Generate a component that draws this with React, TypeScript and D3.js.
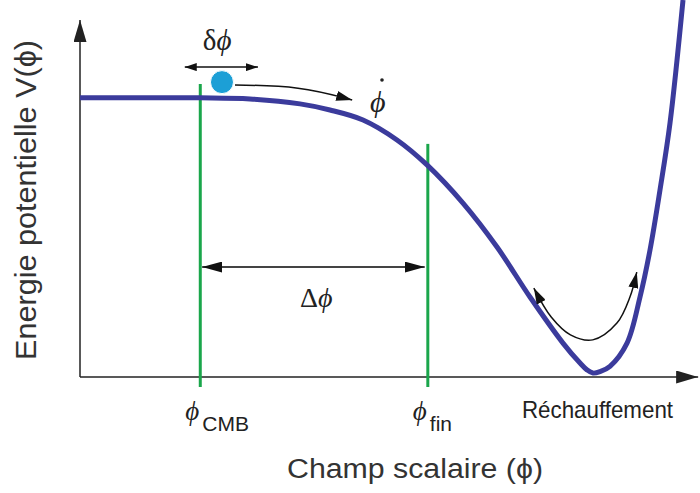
import React from 'react';
import * as d3 from 'd3';

// potential curve V(phi) (arbitrary units 0..10)
const phiValues = [0, 1.935, 2.742, 3.548, 4.032, 4.565, 5.113, 5.597, 6.177, 6.726, 7.258, 7.79, 8.065, 8.177, 8.274, 8.387, 8.548, 8.823, 9.032, 9.194, 9.355, 9.516, 9.726];
const potentialValues = [7.82, 7.82, 7.79, 7.65, 7.48, 7.2, 6.64, 5.94, 4.87, 3.64, 2.24, 0.95, 0.39, 0.2, 0.11, 0.15, 0.3, 0.95, 2.24, 3.56, 5.24, 7.11, 10.56];

// marked field values
const markerNames = ['CMB', 'fin'];
const markerPhi = [1.94, 5.61];
const markerTop = [8.21, 6.53];

// annotations
const ballPos = {phi: 2.29, v: 8.26};
const deltaSmall = {from: 1.69, to: 2.87, v: 8.68};
const deltaBig = {from: 1.97, to: 5.56, v: 3.08};
const rollPhi = [2.5, 3.55, 4.39];
const rollV = [8.18, 8.15, 7.76];
const reheatPhi = [7.32, 7.6, 7.91, 8.27, 8.66, 8.87, 8.98];
const reheatV = [2.49, 1.68, 1.18, 1.04, 1.51, 2.24, 2.94];

const W = 700;
const H = 493;

export default function App() {
  const x = d3.scaleLinear().domain([0, 10]).range([80, 700]);
  const y = d3.scaleLinear().domain([0, 10]).range([377, 20]);

  const pts: [number, number][] = phiValues.map((p, i) => [p, potentialValues[i]]);
  const line = d3.line<[number, number]>()
    .x(d => x(d[0]))
    .y(d => y(d[1]))
    .curve(d3.curveCatmullRom.alpha(0.5));

  const rollLine = d3.line<[number, number]>()
    .x(d => x(d[0])).y(d => y(d[1]))
    .curve(d3.curveBasis)(rollPhi.map((p, i) => [p, rollV[i]]));
  const reheatLine = d3.line<[number, number]>()
    .x(d => x(d[0])).y(d => y(d[1]))
    .curve(d3.curveCatmullRom)(reheatPhi.map((p, i) => [p, reheatV[i]]));

  const greek = '"Liberation Serif", "DejaVu Serif", serif';
  const sans = '"Liberation Sans", Arial, sans-serif';
  const phiX = markerPhi.map(p => x(p));

  return (
    <svg width={W} height={H} style={{position: 'absolute', left: 0, top: 0, background: '#fff'}}>
      <defs>
        <marker id="ax" markerUnits="userSpaceOnUse" markerWidth={22} markerHeight={13}
                refX={22} refY={6.5} orient="auto" viewBox="0 0 22 13">
          <path d="M0,0 L22,6.5 L0,13 z" fill="#222"/>
        </marker>
        <marker id="big" markerUnits="userSpaceOnUse" markerWidth={20} markerHeight={11}
                refX={20} refY={5.5} orient="auto-start-reverse" viewBox="0 0 20 11">
          <path d="M0,0 L20,5.5 L0,11 z" fill="#111"/>
        </marker>
        <marker id="small" markerUnits="userSpaceOnUse" markerWidth={12} markerHeight={8}
                refX={12} refY={4} orient="auto-start-reverse" viewBox="0 0 12 8">
          <path d="M0,0 L12,4 L0,8 z" fill="#111"/>
        </marker>
        <marker id="mid" markerUnits="userSpaceOnUse" markerWidth={16} markerHeight={10}
                refX={16} refY={5} orient="auto-start-reverse" viewBox="0 0 16 10">
          <path d="M0,0 L16,5 L0,10 z" fill="#111"/>
        </marker>
      </defs>

      {/* axes */}
      <line x1={x(0)} y1={y(0)} x2={x(0)} y2={y(10)} stroke="#222" strokeWidth={1.5} markerEnd="url(#ax)"/>
      <line x1={x(0)} y1={y(0)} x2={x(9.97)} y2={y(0)} stroke="#222" strokeWidth={1.5} markerEnd="url(#ax)"/>

      {/* marker lines */}
      {markerPhi.map((p, i) => (
        <line key={markerNames[i]} x1={x(p)} x2={x(p)} y1={y(-0.28)} y2={y(markerTop[i])}
              stroke="#1aa64b" strokeWidth={3}/>
      ))}

      {/* potential */}
      <clipPath id="clip"><rect x={0} y={0} width={W} height={H}/></clipPath>
      <path d={line(pts) ?? ''} fill="none" stroke="#3b3b9c" strokeWidth={5} clipPath="url(#clip)"/>

      {/* ball and its fluctuation */}
      <circle cx={x(ballPos.phi)} cy={y(ballPos.v)} r={11.5} fill="#1c9fd6" stroke="#fff" strokeWidth={1}/>
      <line x1={x(deltaSmall.from)} x2={x(deltaSmall.to)} y1={y(deltaSmall.v)} y2={y(deltaSmall.v)}
            stroke="#111" strokeWidth={1.5} markerStart="url(#small)" markerEnd="url(#small)"/>
      <text x={x(deltaSmall.from) + 18} y={50} fontFamily={greek} fontSize={29} fill="#222">
        δ<tspan fontStyle="italic">ϕ</tspan>
      </text>

      {/* rolling arrow */}
      <path d={rollLine ?? ''} fill="none" stroke="#111" strokeWidth={1.5} markerEnd="url(#mid)"/>
      <text x={370} y={112} fontFamily={greek} fontStyle="italic" fontSize={30} fill="#222">ϕ</text>
      <circle cx={382} cy={80} r={1.8} fill="#222"/>

      {/* Delta phi */}
      <line x1={x(deltaBig.from)} x2={x(deltaBig.to)} y1={y(deltaBig.v)} y2={y(deltaBig.v)}
            stroke="#444" strokeWidth={2} markerStart="url(#big)" markerEnd="url(#big)"/>
      <text x={300} y={307} fontFamily={greek} fontSize={28} fill="#222">
        Δ<tspan fontStyle="italic">ϕ</tspan>
      </text>

      {/* reheating oscillation */}
      <path d={reheatLine ?? ''} fill="none" stroke="#111" strokeWidth={1.5}
            markerStart="url(#mid)" markerEnd="url(#mid)"/>

      {/* tick labels */}
      {markerNames.map((n, i) => (
        <g key={n}>
          <text x={phiX[i] - 15} y={420} fontFamily={greek} fontStyle="italic" fontSize={27} fill="#222">ϕ</text>
          <text x={phiX[i] + 2} y={431} fontFamily={sans} fontSize={21} fill="#222">{n}</text>
        </g>
      ))}
      <text x={522} y={418} fontFamily={sans} fontSize={24} textLength={151} lengthAdjust="spacingAndGlyphs" fill="#222">Réchauffement</text>

      {/* axis titles */}
      <text x={415} y={478} textAnchor="middle" fontFamily={sans} fontSize={27} textLength={256}
            lengthAdjust="spacingAndGlyphs" fill="#333">Champ scalaire (ϕ)</text>
      <text transform="translate(36,200) rotate(-90)" textAnchor="middle" fontFamily={sans} fontSize={30}
            textLength={320} lengthAdjust="spacingAndGlyphs" fill="#333">Energie potentielle V(ϕ)</text>
    </svg>
  );
}
